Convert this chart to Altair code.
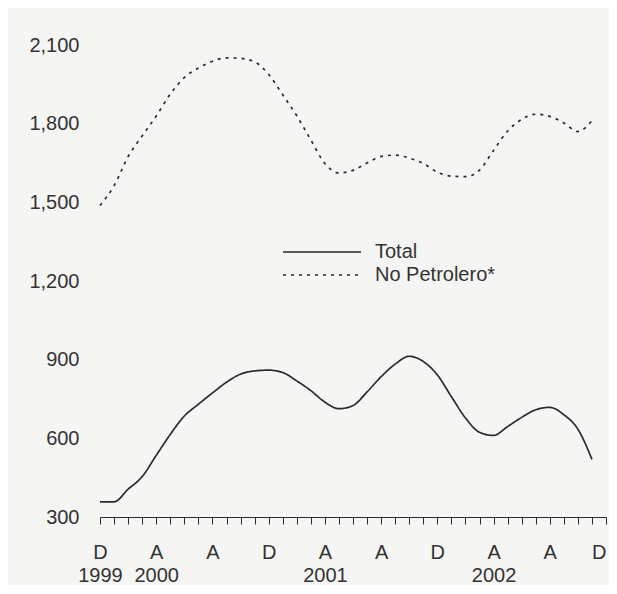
import altair as alt
import pandas as pd

# month index 0 = Dec 1999 ... 35 = Nov 2002
months = list(range(36))

total = [358, 358, 406, 454, 535, 615, 685, 730, 773, 814, 845, 857,
         860, 851, 819, 782, 738, 713, 725, 777, 835, 883, 913, 893,
         842, 759, 678, 623, 611, 645, 680, 709, 718, 690, 635, 520]

no_petrolero = [1488, 1563, 1674, 1753, 1829, 1913, 1976, 2012, 2038, 2051, 2049, 2036,
                1988, 1910, 1830, 1738, 1648, 1612, 1622, 1650, 1675, 1680, 1669, 1648,
                1615, 1600, 1598, 1623, 1698, 1772, 1816, 1836, 1828, 1803, 1770, 1811]

series_names = ["Total", "No Petrolero*"]

tick_values = list(range(37))
month_letters = {0: "D", 4: "A", 8: "A", 12: "D", 16: "A", 20: "A",
                 24: "D", 28: "A", 32: "A", 36: "D"}
year_labels = {0: "1999", 4: "2000", 16: "2001", 28: "2002"}
y_ticks = [300, 600, 900, 1200, 1500, 1800, 2100]

rows = []
for m, v in zip(months, total):
    rows.append({"m": m, "valor": v, "serie": series_names[0]})
for m, v in zip(months, no_petrolero):
    rows.append({"m": m, "valor": v, "serie": series_names[1]})
df = pd.DataFrame(rows)

# build label expression for the x axis
parts = []
for t in tick_values:
    letter = month_letters.get(t, "")
    year = year_labels.get(t, "")
    if year:
        parts.append('["%s","%s"]' % (letter, year))
    else:
        parts.append('"%s"' % letter)
label_expr = "[" + ",".join(parts) + "][datum.value]"

FONT = "Liberation Sans"
INK = "#2b2b2b"

chart = alt.Chart(df).mark_line(
    color=INK, strokeWidth=1.7, interpolate="monotone"
).encode(
    x=alt.X("m:Q",
            scale=alt.Scale(domain=[0, 36], nice=False, zero=False),
            axis=alt.Axis(values=tick_values, labelExpr=label_expr, title=None,
                          grid=False, tickSize=7, tickColor=INK, domainColor=INK,
                          domainWidth=1.2, tickWidth=1, labelFont=FONT,
                          labelFontSize=20, labelColor="#333333", labelPadding=18,
                          labelLineHeight=23, labelOverlap=False, labelFlush=False,
                          labelAlign={"condition": {"test": "datum.value === 36",
                                                    "value": "right"},
                                      "value": "center"},
                          labelAngle=0)),
    y=alt.Y("valor:Q",
            scale=alt.Scale(domain=[300, 2100], nice=False, zero=False),
            axis=alt.Axis(values=y_ticks, format=",.0f", title=None, grid=False,
                          domain=False, ticks=False, labelFont=FONT,
                          labelFontSize=20, labelColor="#333333",
                          labelPadding=21)),
    strokeDash=alt.StrokeDash(
        "serie:N",
        scale=alt.Scale(domain=series_names, range=[[1, 0], [3, 5]]),
        legend=alt.Legend(orient="none", legendX=211, legendY=196, title=None,
                          symbolType="M-3.9,0L3.9,0", symbolSize=400,
                          symbolStrokeWidth=1.6, symbolStrokeColor=INK,
                          labelFont=FONT, labelFontSize=20,
                          labelColor="#333333", labelOffset=42,
                          rowPadding=2, padding=0)),
).properties(
    width=506,
    height=472,
    padding={"left": 92, "top": 37, "right": 3, "bottom": 68},
    autosize=alt.AutoSizeParams(type="none"),
    background="#f5f5f3",
).configure_view(stroke=None)

chart.save("out.html", embed_options={"renderer": "svg", "actions": False})
